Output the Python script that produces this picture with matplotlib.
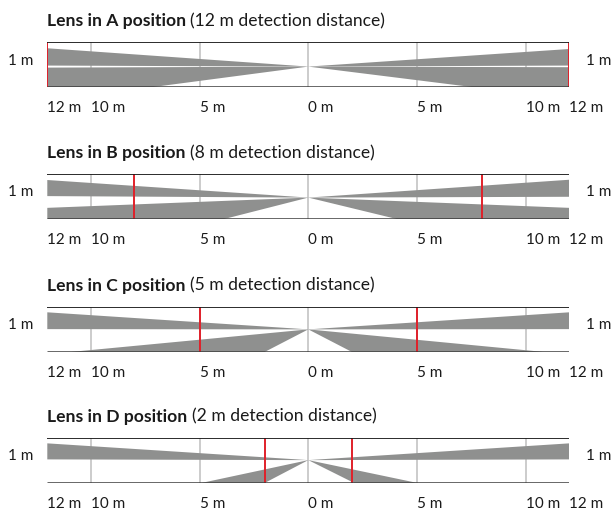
import matplotlib
matplotlib.use("Agg")
import matplotlib.pyplot as plt
from matplotlib.patches import Polygon

# ---- data ----
lens_names = ["A", "B", "C", "D"]
detection_m = [12, 8, 5, 2]
red_x = [[-12, 12], [-8, 8], [-5, 5], [-2, 2]]
apex_y = [0.4625, 0.478, 0.498, 0.504]
# upper beams (edge heights at x = -12 / +12, fraction of height)
up_left_hi = [0.868, 0.867, 0.876, 0.875]
up_left_lo = [0.485, 0.511, 0.504, 0.52]
up_right_hi = [0.852, 0.873, 0.876, 0.875]
up_right_lo = [0.485, 0.496, 0.504, 0.52]
# lower beams
low_left_outer_x = [-12, -12, -10.9, -4.9]
low_left_outer_y = [0.44, 0.251, 0.0, 0.0]
low_left_inner_x = [-7.3, -3.9, -2.0, -2.0]
low_right_outer_x = [12, 12, 10.8, 5.0]
low_right_outer_y = [0.449, 0.251, 0.0, 0.0]
low_right_inner_x = [7.7, 4.1, 2.0, 2.1]
grid_x = [-10, -5, 0, 5, 10]
tick_x = [-12, -10, -5, 0, 5, 10, 12]
tick_labels = ["12 m", "10 m", "5 m", "0 m", "5 m", "10 m", "12 m"]
height_label = "1 m"

W, H = 611, 511
FONT = "Lato"
FS = 11.0
TFS = 12.6
BEAM = "#8f908f"
RED = "#e0202a"
GRID = "#c8c8c8"

fig = plt.figure(figsize=(W / 100, H / 100), dpi=100)
tops = [42.3, 174.0, 306.7, 437.7]
box_h = 45.2
left_px, right_px = 47.3, 569.3

renderer = fig.canvas.get_renderer()

for i, name in enumerate(lens_names):
    top = tops[i]
    ax = fig.add_axes([left_px / W, 1 - (top + box_h) / H,
                       (right_px - left_px) / W, box_h / H])
    ax.set_xlim(-12, 12)
    ax.set_ylim(0, 1)
    ax.axis("off")
    for g in grid_x:
        ax.plot([g, g], [0, 1], color=GRID, lw=1.3, zorder=1, solid_capstyle="butt")
    a = apex_y[i]
    polys = [
        [(0, a), (-12, up_left_hi[i]), (-12, up_left_lo[i])],
        [(0, a), (12, up_right_hi[i]), (12, up_right_lo[i])],
    ]
    pl = [(0, a), (low_left_outer_x[i], low_left_outer_y[i])]
    if low_left_outer_y[i] > 0:
        pl.append((low_left_outer_x[i], 0))
    pl.append((low_left_inner_x[i], 0))
    pr = [(0, a), (low_right_outer_x[i], low_right_outer_y[i])]
    if low_right_outer_y[i] > 0:
        pr.append((low_right_outer_x[i], 0))
    pr.append((low_right_inner_x[i], 0))
    polys += [pl, pr]
    for p in polys:
        ax.add_patch(Polygon(p, closed=True, facecolor=BEAM, edgecolor="none", zorder=2))
    for rx in red_x[i]:
        ax.plot([rx, rx], [0, 1], color=RED, lw=1.4, zorder=3, solid_capstyle="butt")
    ax.plot([-12, 12], [1, 1], color="#1a1a1a", lw=1.3, zorder=4, solid_capstyle="butt")
    ax.plot([-12, 12], [0, 0], color="#3a3a3a", lw=1.8, zorder=4, solid_capstyle="butt")
    for tx, tl in zip(tick_x, tick_labels):
        ax.annotate(tl, xy=(tx, 0), xycoords=("data", "axes fraction"),
                    xytext=(0, -21), textcoords="offset pixels",
                    ha="left", va="center", fontsize=FS, family=FONT, color="#1a1a1a")
    ly = 1 - (top + 18.5) / H
    fig.text(8.5 / W, ly, height_label, ha="left", va="center", fontsize=FS,
             family=FONT, color="#1a1a1a")
    fig.text(585.5 / W, ly, height_label, ha="left", va="center", fontsize=FS,
             family=FONT, color="#1a1a1a")
    ty = 1 - (top - 21.0) / H
    t1 = fig.text(47.3 / W, ty, f"Lens in {name} position", ha="left", va="center",
                  fontsize=TFS, family=FONT, fontweight="bold", color="#1a1a1a")
    bb = t1.get_window_extent(renderer=renderer)
    fig.text((bb.x1 + 4) / W, ty, f"({detection_m[i]} m detection distance)",
             ha="left", va="center", fontsize=TFS, family=FONT, color="#1a1a1a")

fig.savefig("out.png", dpi=100)
